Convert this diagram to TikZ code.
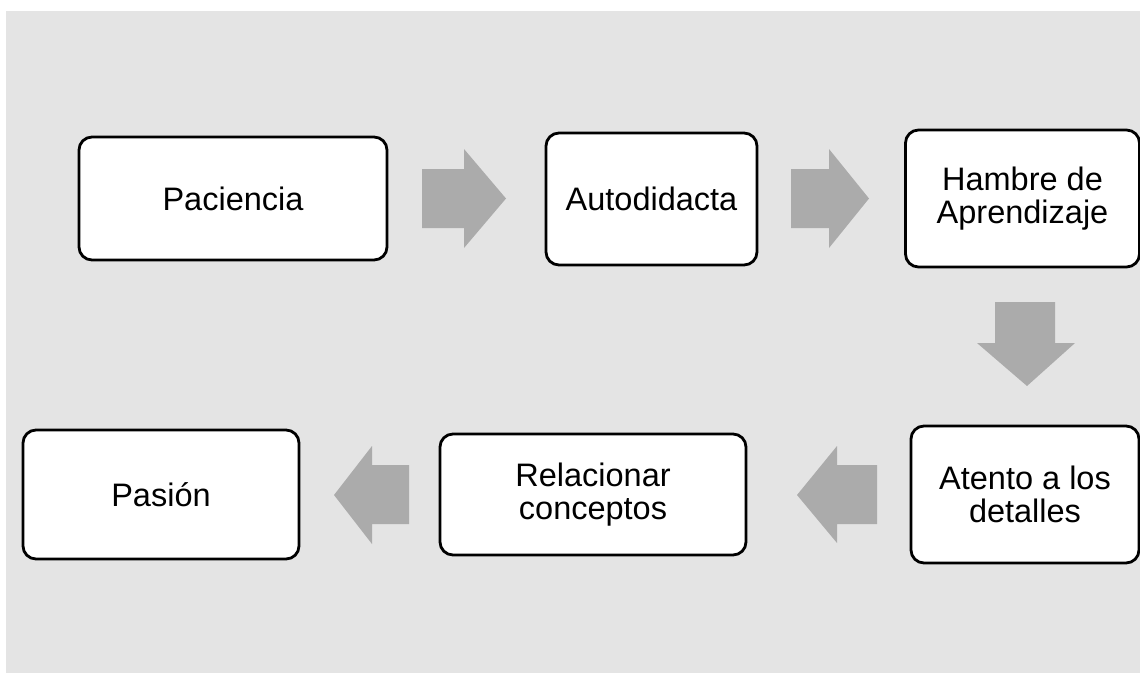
\documentclass[tikz,border=0pt]{standalone}
\usepackage{fontspec}
\setmainfont{Liberation Sans}
\begin{document}
\begin{tikzpicture}[x=1pt,y=-1pt,
  stepbox/.style={draw=black,line width=2.8pt,fill=white,rounded corners=13pt,
    align=center,inner sep=0pt,font=\fontsize{32.5}{32.5}\selectfont},
  blockarrow/.style={fill=arrowgray,draw=none}]
\definecolor{bggray}{HTML}{E4E4E4}
\definecolor{arrowgray}{HTML}{ABABAB}
\useasboundingbox (0,0) rectangle (1140,675);
\fill[bggray] (6,11) rectangle (1140,673);
% boxes
\node[stepbox,minimum width=308pt,minimum height=123pt] (pac) at (233,198.5) {Paciencia};
\node[stepbox,minimum width=211pt,minimum height=132pt] (aut) at (651.5,199) {Autodidacta};
\node[stepbox,minimum width=234pt,minimum height=137pt] (ham) at (1022.5,198.5) {Hambre de\\Aprendizaje};
\node[stepbox,minimum width=228pt,minimum height=137pt] (ate) at (1025,494.5) {Atento a los\\detalles};
\node[stepbox,minimum width=306pt,minimum height=121pt] (rel) at (593,494.5) {Relacionar\\conceptos};
\node[stepbox,minimum width=276pt,minimum height=129pt] (pas) at (161,494.5) {Pasión};
% block arrows
\fill[blockarrow] (422,169) -- (464,169) -- (464,149) -- (506,198.5) -- (464,248) -- (464,228) -- (422,228) -- cycle;
\fill[blockarrow] (791,169) -- (829,169) -- (829,149) -- (869,198.5) -- (829,248) -- (829,228) -- (791,228) -- cycle;
\fill[blockarrow] (995,302) -- (1055,302) -- (1055,343) -- (1075,343) -- (1027,386) -- (977,343) -- (995,343) -- cycle;
\fill[blockarrow] (877,465) -- (837,465) -- (837,446) -- (797,495) -- (837,543) -- (837,524) -- (877,524) -- cycle;
\fill[blockarrow] (409,465) -- (372,465) -- (372,446) -- (334,495) -- (372,544) -- (372,524) -- (409,524) -- cycle;
\end{tikzpicture}
\end{document}
